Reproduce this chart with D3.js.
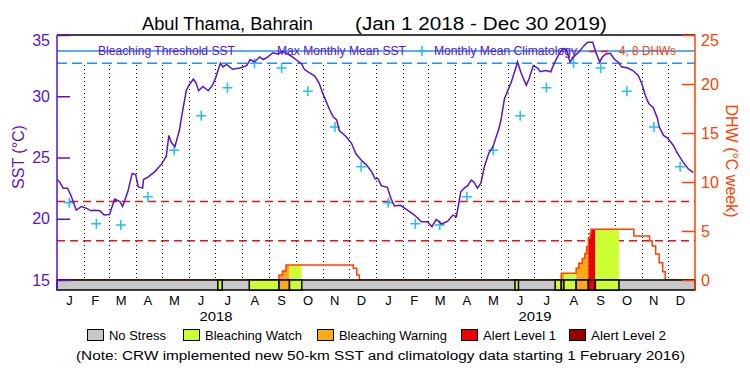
<!DOCTYPE html>
<html>
<head>
<meta charset="utf-8">
<script src="https://cdn.jsdelivr.net/npm/d3@7"></script>
<style>
body { margin:0; background:#fff; }
svg { display:block; font-family:"Liberation Sans", Arial, sans-serif; }
</style>
</head>
<body>
<svg id="chart" width="750" height="375"></svg>
<script>
// daily SST (date, degC)
const sstSeries = [
	["2018-01-01",23.2],["2018-01-04",23.0],["2018-01-08",22.5],["2018-01-13",22.5],["2018-01-17",21.9],["2018-01-23",20.7],
	["2018-01-29",21.0],["2018-02-04",20.85],["2018-02-09",20.65],["2018-02-13",20.7],["2018-02-19",20.65],["2018-02-24",20.3],
	["2018-03-02",20.35],["2018-03-08",21.6],["2018-03-14",21.4],["2018-03-17",21.0],["2018-03-23",22.2],["2018-03-28",23.7],
	["2018-04-01",23.6],["2018-04-04",22.6],["2018-04-09",22.5],["2018-04-10",23.2],["2018-04-15",23.4],["2018-04-23",23.85],
	["2018-05-01",24.5],["2018-05-06",25.1],["2018-05-09",26.8],["2018-05-12",26.2],["2018-05-16",25.9],["2018-05-19",26.7],
	["2018-05-21",27.2],["2018-05-24",28.5],["2018-05-29",30.5],["2018-06-01",30.9],["2018-06-06",31.4],["2018-06-09",31.1],
	["2018-06-12",30.45],["2018-06-17",30.8],["2018-06-23",30.45],["2018-06-28",30.9],["2018-07-02",31.6],["2018-07-04",32.06],
	["2018-07-07",32.7],["2018-07-10",32.4],["2018-07-14",32.6],["2018-07-21",32.2],["2018-07-29",32.3],["2018-08-06",32.5],
	["2018-08-10",33.0],["2018-08-15",32.8],["2018-08-21",33.2],["2018-08-25",33.0],["2018-08-30",33.2],["2018-09-05",33.55],
	["2018-09-11",33.45],["2018-09-16",33.64],["2018-09-22",33.45],["2018-09-27",33.23],["2018-10-02",32.96],["2018-10-08",32.63],
	["2018-10-11",32.2],["2018-10-17",31.9],["2018-10-23",31.65],["2018-10-28",31.06],["2018-11-01",30.24],["2018-11-05",29.56],
	["2018-11-09",28.9],["2018-11-13",28.33],["2018-11-17",28.06],["2018-11-20",27.2],["2018-11-28",26.7],["2018-12-04",26.16],
	["2018-12-09",25.3],["2018-12-15",24.8],["2018-12-21",24.4],["2018-12-27",23.84],["2018-12-31",23.25],
	["2019-01-03",23.3],["2019-01-07",22.7],["2019-01-14",22.57],["2019-01-18",21.67],["2019-01-22",21.04],["2019-01-29",21.1],
	["2019-02-06",20.7],["2019-02-14",20.3],["2019-02-22",19.76],["2019-03-01",19.76],["2019-03-06",19.35],["2019-03-11",19.95],
	["2019-03-17",19.57],["2019-03-24",19.8],["2019-03-30",20.3],["2019-04-03",20.17],["2019-04-08",22.2],["2019-04-12",22.5],
	["2019-04-16",22.7],["2019-04-20",23.16],["2019-04-23",23.0],["2019-04-27",22.5],["2019-05-01",22.9],["2019-05-05",24.25],
	["2019-05-10",25.34],["2019-05-15",25.9],["2019-05-19",26.8],["2019-05-21",27.2],["2019-05-24",28.06],["2019-05-28",29.8],
	["2019-06-01",30.5],["2019-06-05",31.2],["2019-06-09",32.1],["2019-06-12",32.8],["2019-06-16",31.9],["2019-06-22",30.9],
	["2019-06-25",31.4],["2019-06-30",32.5],["2019-07-05",32.3],["2019-07-08",32.0],["2019-07-14",32.1],["2019-07-20",32.0],
	["2019-07-24",32.7],["2019-07-29",33.4],["2019-08-03",33.9],["2019-08-07",33.8],["2019-08-11",32.8],["2019-08-15",33.2],
	["2019-08-21",33.6],["2019-08-26",34.05],["2019-08-31",34.4],["2019-09-06",34.4],["2019-09-10",33.5],["2019-09-14",32.8],
	["2019-09-17",33.2],["2019-09-21",33.45],["2019-09-26",33.5],["2019-10-01",33.0],["2019-10-05",32.8],["2019-10-09",32.4],
	["2019-10-16",32.3],["2019-10-22",32.1],["2019-10-28",31.7],["2019-11-01",31.06],["2019-11-05",30.1],["2019-11-09",29.4],
	["2019-11-14",29.1],["2019-11-19",28.2],["2019-11-21",27.5],["2019-11-26",26.8],["2019-12-01",26.57],["2019-12-07",26.0],
	["2019-12-12",25.34],["2019-12-18",24.66],["2019-12-24",24.1],["2019-12-30",23.76]
]

// degree heating weeks, step changes
const dhwSeries = [
	["2018-01-01",0],["2018-09-12",0.5],["2018-09-16",0.92],["2018-09-20",1.53],["2018-12-06",1.2],["2018-12-10",0.5],
	["2018-12-13",0],["2019-08-01",0.68],["2019-08-18",1.19],["2019-08-21",1.7],["2019-08-25",2.2],["2019-08-28",2.7],
	["2019-08-30",3.4],["2019-09-01",4.25],["2019-09-03",4.76],["2019-09-04",5.17],["2019-10-23",4.49],["2019-11-10",4.0],
	["2019-11-13",3.47],["2019-11-17",2.65],["2019-11-21",1.77],["2019-11-25",0.85],["2019-11-28",0],["2019-12-31",0]
]

// monthly mean climatology, Jan..Dec
const climValues = [21.3, 19.6, 19.5, 21.8, 25.6, 28.4, 30.7, 32.7, 32.3, 30.4, 27.5, 24.25]
const years = [2018, 2019]

const mmm = 32.7
const bleachThreshold = 33.7
const dhwMarks = [4, 8]

// stress periods: start, end, level (1 watch, 2 warning, 3 alert 1)
const stressPeriods = [
	["2018-07-04","2018-07-09",1],["2018-08-09","2018-09-12",1],["2018-09-12","2018-09-24",2],["2018-09-24","2018-10-08",1],
	["2019-06-09","2019-06-13",1],["2019-07-25","2019-08-01",1],["2019-08-01","2019-08-04",2],["2019-08-04","2019-08-18",1],
	["2019-08-18","2019-09-01",2],["2019-09-01","2019-09-09",3],["2019-09-09","2019-10-06",1]
]

const monthLetters = ["J","F","M","A","M","J","J","A","S","O","N","D"]
const legendLabels = ["No Stress","Bleaching Watch","Bleaching Warning","Alert Level 1","Alert Level 2"]
const levelColors = ["#c8c8c8","#ccff33","#fbaa16","#ee0000","#960000"]

const purple = "#5a14c8", blue = "#1e90ff", cyan = "#20c0f0", dhwColor = "#ff4000"

const parse = d3.timeParse("%Y-%m-%d")
const sst = sstSeries.map(d => ({date: parse(d[0]), value: d[1]}))
const dhw = dhwSeries.map(d => ({date: parse(d[0]), value: d[1]}))

const svg = d3.select('#chart')

const xScale = d3.scaleTime()
	.domain([parse("2018-01-01"), parse("2020-01-01")])
	.range([57, 695])

const ySst = d3.scaleLinear().domain([15, 35]).range([280, 35])
const yDhw = d3.scaleLinear().domain([0, 25]).range([280, 35])

const pLeft = 57, pRight = 695, pTop = 35, barTop = 280, barBottom = 290

// month separators
const monthStarts = d3.timeMonth.range(parse("2018-02-01"), parse("2020-01-01"))
svg.selectAll('.monthLine')
	.data(monthStarts)
	.enter()
	.append('line')
	.attr('x1', d => Math.round(xScale(d)) + 0.5)
	.attr('x2', d => Math.round(xScale(d)) + 0.5)
	.attr('y1', 65)
	.attr('y2', barTop)
	.attr('stroke', 'black')
	.attr('stroke-dasharray', '1,3')

// threshold lines
svg.append('line')
	.attr('x1', pLeft).attr('x2', pRight)
	.attr('y1', ySst(bleachThreshold)).attr('y2', ySst(bleachThreshold))
	.attr('stroke', blue).attr('stroke-width', 1.5)

svg.append('line')
	.attr('x1', pLeft).attr('x2', pRight)
	.attr('y1', ySst(mmm)).attr('y2', ySst(mmm))
	.attr('stroke', blue).attr('stroke-width', 1.5)
	.attr('stroke-dasharray', '10,5')

svg.selectAll('.dhwMark')
	.data(dhwMarks)
	.enter()
	.append('line')
	.attr('x1', pLeft).attr('x2', pRight)
	.attr('y1', d => yDhw(d)).attr('y2', d => yDhw(d))
	.attr('stroke', '#ee1111').attr('stroke-width', 1.5)
	.attr('stroke-dasharray', '8,5')

// DHW fills coloured by stress level
const defs = svg.append('defs')
const dhwArea = d3.area()
	.curve(d3.curveStepAfter)
	.x(d => xScale(d.date))
	.y0(yDhw(0))
	.y1(d => yDhw(d.value))

stressPeriods.forEach(function(p, i){
	let x0 = xScale(parse(p[0])), x1 = xScale(parse(p[1]))
	defs.append('clipPath').attr('id', 'clip' + i)
		.append('rect').attr('x', x0).attr('y', 0).attr('width', x1 - x0).attr('height', barTop)
	svg.append('path')
		.datum(dhw)
		.attr('d', dhwArea)
		.attr('fill', levelColors[p[2]])
		.attr('clip-path', `url(#clip${i})`)
})

svg.append('path')
	.datum(dhw)
	.attr('d', d3.line().curve(d3.curveStepAfter).x(d => xScale(d.date)).y(d => yDhw(d.value)))
	.attr('fill', 'none')
	.attr('stroke', dhwColor)
	.attr('stroke-width', 1.5)

// climatology crosses
const climPoints = []
years.forEach(y => climValues.forEach((v, m) => climPoints.push({date: new Date(y, m, 15), value: v})))

const cross = 'M-5,0H5M0,-5V5'
svg.selectAll('.clim')
	.data(climPoints)
	.enter()
	.append('path')
	.attr('transform', d => `translate(${xScale(d.date)},${ySst(d.value)})`)
	.attr('d', cross)
	.attr('stroke', cyan)
	.attr('stroke-width', 1.5)

// top legend
const legendY = 55
function legendText(txt, x, len, color){
	svg.append('text')
		.attr('x', x).attr('y', legendY)
		.attr('font-size', 12.5)
		.attr('fill', color)
		.attr('textLength', len)
		.attr('lengthAdjust', 'spacingAndGlyphs')
		.text(txt)
}
legendText('Bleaching Threshold SST', 98, 137, purple)
legendText('Max Monthly Mean SST', 277, 129, purple)
svg.append('path').attr('transform', 'translate(422,51)').attr('d', cross).attr('stroke', cyan).attr('stroke-width', 1.5)
legendText('Monthly Mean Climatology', 434, 143, purple)
svg.append('line').attr('x1', 589).attr('x2', 612).attr('y1', 51.5).attr('y2', 51.5)
	.attr('stroke', '#ee1111').attr('stroke-width', 1.5).attr('stroke-dasharray', '7,5')
legendText('4, 8 DHWs', 619, 57, dhwColor)

// SST line
svg.append('path')
	.datum(sst)
	.attr('d', d3.line().x(d => xScale(d.date)).y(d => ySst(d.value)))
	.attr('fill', 'none')
	.attr('stroke', purple)
	.attr('stroke-width', 1.5)

// stress bar
svg.append('rect')
	.attr('x', pLeft).attr('y', barTop)
	.attr('width', pRight - pLeft).attr('height', barBottom - barTop)
	.attr('fill', levelColors[0])
	.attr('stroke', 'black').attr('stroke-width', 1.5)

svg.selectAll('.stress')
	.data(stressPeriods)
	.enter()
	.append('rect')
	.attr('x', d => xScale(parse(d[0])))
	.attr('width', d => xScale(parse(d[1])) - xScale(parse(d[0])))
	.attr('y', barTop)
	.attr('height', barBottom - barTop)
	.attr('fill', d => levelColors[d[2]])
	.attr('stroke', 'black')
	.attr('stroke-width', 1.5)

// frame top
svg.append('line').attr('x1', pLeft).attr('x2', pRight).attr('y1', pTop).attr('y2', pTop)
	.attr('stroke', 'black').attr('stroke-width', 1.5)

// left axis
let gL = svg.append('g').attr('transform', `translate(${pLeft},0)`)
gL.call(d3.axisLeft(ySst).tickValues(d3.range(16, 35)).tickSize(-6).tickFormat(''))
gL.call(d3.axisLeft(ySst).tickValues([15, 20, 25, 30, 35]).tickSize(-13).tickPadding(7).tickFormat(d3.format('d')))
gL.selectAll('.domain').remove()
gL.selectAll('line').attr('stroke', purple).attr('stroke-width', 1.5)
gL.selectAll('text').attr('fill', purple).attr('font-size', 16).attr('font-family', '"Liberation Sans", Arial, sans-serif')
gL.selectAll('.tick text').filter(d => d === 35).attr('dy', '0.67em')
svg.append('line').attr('x1', pLeft).attr('x2', pLeft).attr('y1', pTop).attr('y2', barBottom)
	.attr('stroke', purple).attr('stroke-width', 1.5)

// right axis
let gR = svg.append('g').attr('transform', `translate(${pRight},0)`)
gR.call(d3.axisRight(yDhw).tickValues(d3.range(1, 25)).tickSize(-7).tickFormat(''))
gR.call(d3.axisRight(yDhw).tickValues([0, 5, 10, 15, 20, 25]).tickSize(-13).tickPadding(6).tickFormat(d3.format('d')))
gR.selectAll('.domain').remove()
gR.selectAll('line').attr('stroke', dhwColor).attr('stroke-width', 1.5)
gR.selectAll('text').attr('fill', dhwColor).attr('font-size', 16).attr('font-family', '"Liberation Sans", Arial, sans-serif')
gR.selectAll('.tick text').filter(d => d === 25).attr('dy', '0.67em')
svg.append('line').attr('x1', pRight).attr('x2', pRight).attr('y1', pTop).attr('y2', barBottom)
	.attr('stroke', dhwColor).attr('stroke-width', 1.5)

// axis titles
svg.append('text')
	.attr('transform', 'translate(24,157) rotate(-90)')
	.attr('text-anchor', 'middle')
	.attr('font-size', 16)
	.attr('fill', purple)
	.text('SST (°C)')

svg.append('text')
	.attr('transform', 'translate(726,161) rotate(90)')
	.attr('text-anchor', 'middle')
	.attr('font-size', 16)
	.attr('fill', dhwColor)
	.attr('textLength', 113)
	.attr('lengthAdjust', 'spacingAndGlyphs')
	.text('DHW (°C week)')

// month letters and years
const monthMids = d3.timeMonth.range(parse("2018-01-01"), parse("2020-01-01"))
	.map(d => new Date((+d + +d3.timeMonth.offset(d, 1)) / 2))
svg.selectAll('.monthLabel')
	.data(monthMids)
	.enter()
	.append('text')
	.attr('x', d => xScale(d) - 1)
	.attr('y', 304.5)
	.attr('text-anchor', 'middle')
	.attr('font-size', 13)
	.attr('fill', 'black')
	.text((d, i) => monthLetters[i % 12])

svg.selectAll('.yearLabel')
	.data(years)
	.enter()
	.append('text')
	.attr('x', d => xScale(new Date(d, 6, 2)))
	.attr('y', 320.5)
	.attr('text-anchor', 'middle')
	.attr('font-size', 13.5)
	.attr('textLength', 33)
	.attr('lengthAdjust', 'spacingAndGlyphs')
	.text(d => d)

// title
svg.append('text').attr('x', 142).attr('y', 29.5).attr('font-size', 17.5)
	.attr('textLength', 171).attr('lengthAdjust', 'spacingAndGlyphs')
	.text('Abul Thama, Bahrain')
svg.append('text').attr('x', 355).attr('y', 29.5).attr('font-size', 17.5)
	.attr('textLength', 252).attr('lengthAdjust', 'spacingAndGlyphs')
	.text('(Jan 1 2018 - Dec 30 2019)')

// bottom legend
const boxX = [87, 183, 317, 461, 569]
const labelLen = [57, 97, 108, 73, 75]
legendLabels.forEach(function(lbl, i){
	svg.append('rect')
		.attr('x', boxX[i] + 0.5).attr('y', 329.5)
		.attr('width', 16).attr('height', 11)
		.attr('fill', levelColors[i])
		.attr('stroke', 'black').attr('stroke-width', 1)
	svg.append('text')
		.attr('x', boxX[i] + 22).attr('y', 340)
		.attr('font-size', 12.5)
		.attr('textLength', labelLen[i])
		.attr('lengthAdjust', 'spacingAndGlyphs')
		.text(lbl)
})

svg.append('text')
	.attr('x', 76).attr('y', 360)
	.attr('font-size', 12.5)
	.attr('textLength', 609)
	.attr('lengthAdjust', 'spacingAndGlyphs')
	.text('(Note: CRW implemented new 50-km SST and climatology data starting 1 February 2016)')
</script>
</body>
</html>
